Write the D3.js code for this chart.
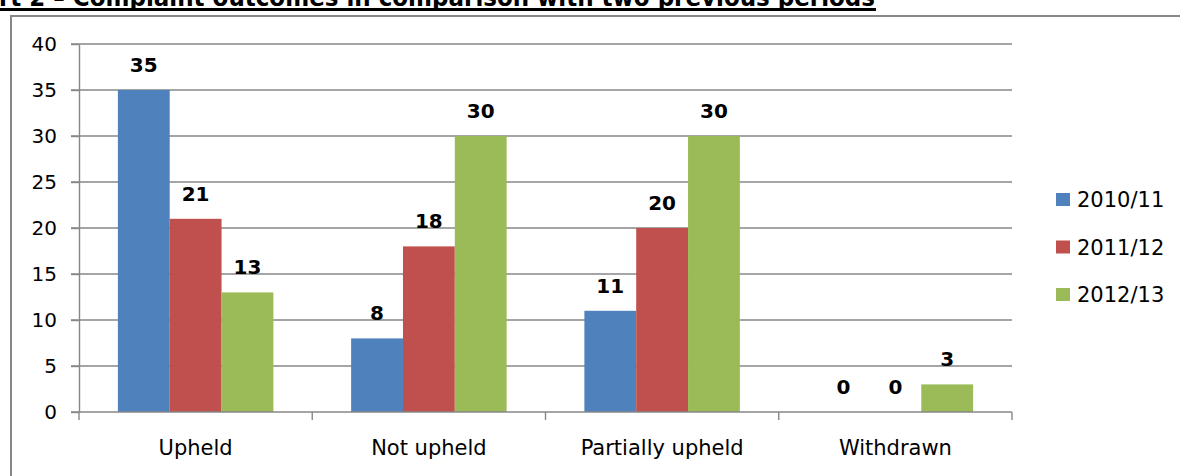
<!DOCTYPE html>
<html>
<head>
<meta charset="utf-8">
<script src="https://cdn.jsdelivr.net/npm/d3@7"></script>
<style>
  html, body { margin: 0; padding: 0; background: #ffffff; }
  svg { display: block; }
</style>
</head>
<body>
<svg id="chart" width="1180" height="476"></svg>
<script>
// ---- data ----
const titleText = "rt 2 \u2013 Complaint outcomes in comparison with two previous periods";
const categories = ["Upheld", "Not upheld", "Partially upheld", "Withdrawn"];
const seriesNames = ["2010/11", "2011/12", "2012/13"];
const values2010 = [35, 8, 11, 0];
const values2011 = [21, 18, 20, 0];
const values2012 = [13, 30, 30, 3];
const yTicks = [0, 5, 10, 15, 20, 25, 30, 35, 40];
const seriesColors = ["#4F81BD", "#C0504D", "#9BBB59"];

const seriesValues = [values2010, values2011, values2012];
const font = "'DejaVu Sans', 'Liberation Sans', sans-serif";

const svg = d3.select("#chart");

// title (cut off at the top) with underline
const title = svg.append("text")
  .attr("x", -1).attr("y", 6)
  .attr("font-family", font).attr("font-weight", "bold")
  .attr("font-size", 24).attr("fill", "#000")
  .attr("textLength", 876).attr("lengthAdjust", "spacingAndGlyphs")
  .text(titleText);
svg.append("rect").attr("x", 0).attr("y", 8).attr("width", 876).attr("height", 3).attr("fill", "#000");

// chart border (runs off the right and bottom)
svg.append("path")
  .attr("d", "M11,480 L11,16 L1185,16")
  .attr("fill", "none").attr("stroke", "#878787").attr("stroke-width", 2);

// scales
const x0 = d3.scaleBand().domain(categories).range([79, 1012]).paddingInner(0).paddingOuter(0);
const x1 = d3.scaleBand().domain(seriesNames).range([0, x0.bandwidth()]).paddingInner(0).paddingOuter(0.75);
const y = d3.scaleLinear().domain([0, 40]).range([412, 44]);

// gridlines
svg.append("g").selectAll("line").data(yTicks.filter(d => d > 0)).join("line")
  .attr("x1", 71).attr("x2", 1012)
  .attr("y1", d => y(d)).attr("y2", d => y(d))
  .attr("stroke", "#878787").attr("stroke-width", 1.4);

// y axis
const yAxis = d3.axisLeft(y).tickValues(yTicks).tickSize(8).tickPadding(14).tickSizeOuter(0);
const gy = svg.append("g").attr("transform", "translate(79,0)").call(yAxis);
gy.select(".domain").attr("stroke", "#878787").attr("stroke-width", 1.4);
gy.selectAll(".tick line").attr("stroke", "#878787").attr("stroke-width", 1.4);
gy.selectAll(".tick text").attr("font-family", font).attr("font-size", 20).attr("fill", "#000");

// bars
const groups = svg.append("g").selectAll("g").data(categories).join("g")
  .attr("transform", d => `translate(${x0(d)},0)`);

groups.selectAll("rect")
  .data((c, i) => seriesNames.map((s, j) => ({ s, v: seriesValues[j][i], color: seriesColors[j] })))
  .join("rect")
  .attr("x", d => x1(d.s))
  .attr("width", x1.bandwidth())
  .attr("y", d => y(d.v))
  .attr("height", d => y(0) - y(d.v))
  .attr("fill", d => d.color);

groups.selectAll("text.lbl")
  .data((c, i) => seriesNames.map((s, j) => ({ s, v: seriesValues[j][i] })))
  .join("text").attr("class", "lbl")
  .attr("x", d => x1(d.s) + x1.bandwidth() / 2)
  .attr("y", d => y(d.v) - 18)
  .attr("text-anchor", "middle")
  .attr("font-family", font).attr("font-weight", "bold").attr("font-size", 20)
  .attr("fill", "#000")
  .text(d => d.v);

// x axis
const xAxis = d3.axisBottom(x0).tickSize(0).tickPadding(0);
const gx = svg.append("g").attr("transform", `translate(0,${y(0)})`).call(xAxis);
gx.select(".domain").remove();
gx.append("line").attr("x1", 71).attr("x2", 1012).attr("y1", 0).attr("y2", 0)
  .attr("stroke", "#878787").attr("stroke-width", 1.4);
const boundaries = categories.map(c => x0(c)).concat([x0.range()[1]]);
gx.selectAll("line.bnd").data(boundaries).join("line").attr("class", "bnd")
  .attr("x1", d => d).attr("x2", d => d).attr("y1", 0).attr("y2", 8)
  .attr("stroke", "#878787").attr("stroke-width", 1.4);
gx.selectAll(".tick text")
  .attr("font-family", font).attr("font-size", 21).attr("fill", "#000")
  .attr("dy", 0).attr("y", 43);

// legend
const legend = svg.append("g").selectAll("g").data(seriesNames).join("g")
  .attr("transform", (d, i) => `translate(1056,${193 + i * 47.5})`);
legend.append("rect").attr("width", 14).attr("height", 13)
  .attr("fill", (d, i) => seriesColors[i]);
legend.append("text").attr("x", 21).attr("y", 14)
  .attr("font-family", font).attr("font-size", 21).attr("fill", "#000")
  .text(d => d);
</script>
</body>
</html>
